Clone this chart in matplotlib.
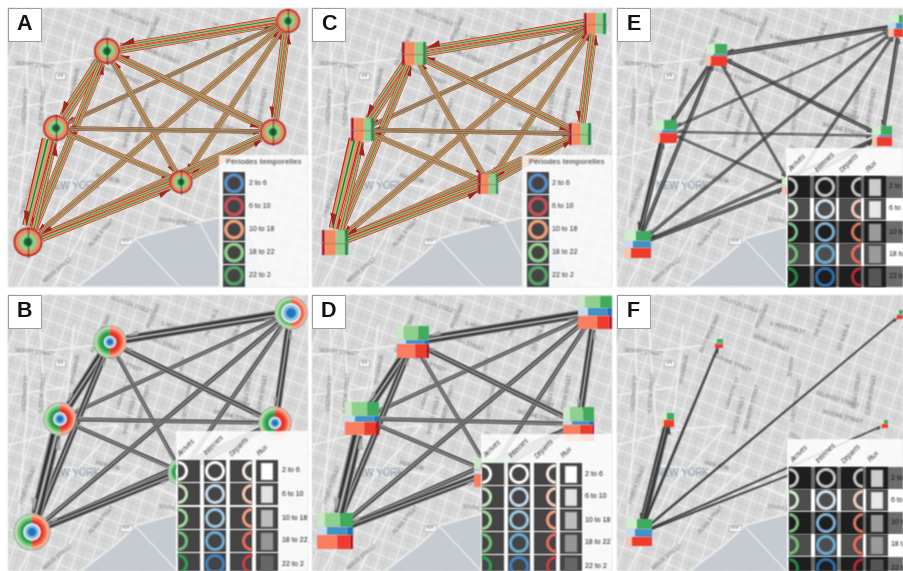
import numpy as np
import matplotlib
matplotlib.use("Agg")
import matplotlib.pyplot as plt
from matplotlib.collections import LineCollection
from matplotlib.patches import Circle, Polygon, Rectangle, Wedge

plt.rcParams['font.family'] = ['Liberation Sans', 'DejaVu Sans']

W, H = 904, 571

# panel frames in figure pixels: left, top, right, bottom
FRAME_A = (8, 8, 308, 287)
FRAME_B = (8, 295, 308, 571)
FRAME_C = (312, 8, 612, 287)
FRAME_D = (312, 295, 612, 571)
FRAME_E = (617, 8, 904, 287)
FRAME_F = (617, 295, 904, 571)

# node order: top right, top middle, left, right, centre, bottom left
NODES_A = [(288, 21), (107, 51), (56, 128), (273, 132), (181, 182), (28, 242)]
RADII_A = [12, 13, 13, 13, 11.5, 14.5]
NODES_B = [(291, 313), (110, 342), (60, 419), (275, 423), (181, 472), (32, 532)]
RADII_B = [16, 16, 16, 16, 13, 18]
INNER_B = [0.62, 0.38, 0.42, 0.38, 0.4, 0.48]

# left, top, right, bottom of the boxes
BOX_C = [(584, 13, 606, 34), (402, 42, 426, 65), (351, 118, 374, 141),
         (569, 123, 591, 145), (478, 174, 498, 194), (322, 230, 348, 255)]
BOX_D = [(578, 296, 612, 329), (397, 326, 429, 358), (345, 402, 379, 435),
         (563, 407, 594, 441), (474, 458, 506, 487), (317, 513, 353, 549)]
BOX_E = [(888, 15, 912, 37), (706, 44, 727, 66), (654, 120, 677, 143),
         (872, 126, 892, 146), (782, 177, 800, 195), (624, 231, 651, 258)]
BOX_F = [(895, 310, 903, 319), (713, 339, 723, 348), (661, 413, 674, 427),
         (880, 420, 888, 428), (626, 519, 652, 546)]

# row heights green / blue / red
HEIGHTS_D = [(0.36, 0.26, 0.38), (0.45, 0.12, 0.43), (0.42, 0.18, 0.40),
             (0.42, 0.12, 0.46), (0.42, 0.12, 0.46), (0.40, 0.21, 0.39)]
HEIGHTS_E = [(0.37, 0.26, 0.37), (0.45, 0.10, 0.45), (0.42, 0.16, 0.42),
             (0.45, 0.12, 0.43), (0.45, 0.12, 0.43), (0.37, 0.26, 0.37)]
HEIGHTS_F = [(0.45, 0.05, 0.50), (0.48, 0.04, 0.48), (0.48, 0.04, 0.48),
             (0.48, 0.04, 0.48), (0.36, 0.29, 0.35)]

# colour runs across a box row
GREEN_D = [(0.22, '#cbe8c4'), (0.43, '#8fd08d'), (0.35, '#41ab5d')]
BLUE_D = [(0.29, '#c6dbef'), (0.55, '#4292c6'), (0.16, '#2171b5')]
RED_D = [(0.55, '#fb7d60'), (0.37, '#ee3b2c'), (0.08, '#b5141c')]
GREEN_E = [(0.44, '#cfeeca'), (0.56, '#41ab5d')]
BLUE_E = [(0.35, '#c6dbef'), (0.65, '#4292c6')]
RED_E = [(0.25, '#fcc3ad'), (0.75, '#ee3b2c')]
ROW_C = [(0.13, '#a8162a'), (0.42, '#f58a5e'), (0.33, '#8fd08d'), (0.12, '#1f8a45')]

# node pairs and the width of the two directed links
EDGES = [(0, 1), (0, 2), (0, 3), (0, 4), (0, 5), (1, 2), (1, 3), (1, 4),
         (1, 5), (2, 3), (2, 4), (2, 5), (3, 4), (3, 5), (4, 5)]
WIDTH_A_AB = [6.5, 2.6, 5.0, 3.2, 3.4, 6.0, 4.2, 3.2, 4.5, 2.6, 3.2, 12.0, 4.2, 3.6, 5.0]
WIDTH_A_BA = [5.0, 2.4, 4.5, 3.2, 3.4, 5.5, 4.0, 3.2, 4.5, 2.6, 3.2, 6.0, 3.8, 3.6, 5.5]
WIDTH_B_AB = [5.5, 2.2, 4.0, 2.4, 2.6, 5.0, 3.0, 2.0, 3.6, 2.2, 2.2, 7.0, 3.0, 2.6, 4.0]
WIDTH_B_BA = [4.5, 2.0, 4.0, 2.4, 2.6, 4.5, 3.0, 2.0, 3.6, 2.2, 2.2, 6.0, 3.0, 2.6, 4.0]
WIDTH_E_AB = [2.8, 1.4, 2.4, 1.7, 1.8, 2.4, 2.2, 1.5, 2.2, 1.2, 1.4, 3.8, 1.8, 1.6, 2.0]
WIDTH_E_BA = [2.2, 1.2, 2.0, 1.6, 1.7, 2.0, 2.0, 1.5, 2.0, 1.1, 1.4, 2.0, 1.7, 1.6, 2.0]

# panel F only has the links of the bottom left node (index 4 there)
EDGES_F = [(4, 0), (4, 1), (4, 2), (4, 3), (4, 5)]
WIDTH_F = [2.4, 3.0, 4.8, 2.2, 2.4]
HIDDEN_F = (794, 472)

BANDS_A = [(1.0, '#a3231f'), (0.80, '#f4895f'), (0.36, '#8fd08d'), (0.14, '#1b7a3d')]
BANDS_THIN = [(1.0, '#96302a'), (0.72, '#b08a60'), (0.30, '#7d9a66')]
BANDS_GREY = [(1.0, '#a8a8a8'), (0.68, '#6a6a6a'), (0.30, '#1e1e1e')]
BANDS_DARK = [(1.0, '#3c3c3c')]

PERIODS = ['2 to 6', '6 to 10', '10 to 18', '18 to 22', '22 to 2']
PERIOD_COLORS = ['#5b8fc9', '#c9505f', '#f2a27c', '#93cf8f', '#55a468']
COLUMNS = ['Arrivés', 'Internes', 'Départs', 'Flux']
ARRIVES = ['#ffffff', '#c7e9c0', '#a1d99b', '#74c476', '#31a354']
INTERNES = ['#ffffff', '#c6dbef', '#9ecae1', '#6baed6', '#3f84c4']
DEPARTS = ['#fdeee6', '#fcc9b5', '#fc9a80', '#ef6a5a', '#cf3f48']
FLUX = ['#ffffff', '#e2e2e2', '#bdbdbd', '#969696', '#666666']
ARRIVES_DIM = ['#c8c8c8', '#d5efd0', '#7fbf85', '#74c476', '#238b45']
INTERNES_DIM = ['#c8c8c8', '#d6e6f4', '#7fb3d5', '#6baed6', '#2e70b0']
DEPARTS_DIM = ['#c8c8c8', '#f6cdbd', '#df7a62', '#ef6a5a', '#b92b33']
FLUX_DIM = ['#cccccc', '#e8e8e8', '#9a9a9a', '#9a9a9a', '#555555']

# map, everything relative to the panel corner
AVENUE_FOOT = [-70, -52, -38, -20, -4, 14, 30, 46, 60, 78, 94, 110, 126, 142,
               158, 172, 190, 206, 222, 238, 254, 272, 288]
CROSS_START = [-90, -72, -56, -40, -24, -8, 8, 24, 40, 56, 72, 88, 104, 120,
               136, 152, 168, 184, 200, 216, 232, 248]
WEST_ROADS = [[(0, 150), (60, 135), (110, 130)], [(30, 0), (36, 90), (40, 140)],
              [(18, 0), (20, 110), (10, 220)], [(66, 30), (58, 110), (30, 210)],
              [(0, 60), (90, 50)], [(0, 100), (60, 92)], [(40, 170), (120, 180), (200, 215)],
              [(45, 279), (80, 215), (132, 170)], [(10, 279), (55, 190), (110, 130)]]
WATER_EAST = [(69, 279), (107, 250), (129, 230), (165, 220), (209, 210), (236, 205),
              (262, 279)]
WATER_WEST = [(0, 0), (7, 0), (6, 30), (0, 48)]
PIERS = [(129, 233), (172, 279), (192, 215), (215, 258)]

STREET_NAMES = ['HOUSTON STREET', 'E HOUSTON ST', 'BROADWAY', 'BOWERY', 'BROOME STREET',
                'SPRING STREET', 'DELANCEY STREET', 'BROOME STREET', 'LAFAYETTE ST',
                'BAXTER STREET', 'MULBERRY STREET', 'CHRYSTIE STREET', 'ESSEX STREET',
                'CLINTON STREET', 'HUDSON STREET', 'GREENWICH ST', 'VESTRY STREET',
                '6TH AVENUE', 'WEST BROADWAY', '2ND AVENUE', '1ST AVENUE', 'SOUTH STREET',
                'PEARL STREET', 'WATER STREET', 'CHURCH STREET', 'CANAL', 'PARK ROW']
STREET_X = [123, 171, 146, 175, 115, 153, 220, 225, 116, 123, 135, 180, 241, 255, 35, 18,
            26, 68, 93, 205, 228, 168, 94, 50, 20, 178, 100]
STREET_Y = [10, 33, 20, 70, 68, 48, 105, 122, 98, 120, 112, 105, 95, 100, 98, 98, 57,
            73, 38, 28, 42, 214, 225, 262, 190, 143, 171]
STREET_ROT = [-20, -15, 65, 80, -22, -22, -18, -15, 70, 75, 75, 80, 80, 80, 85, 85, -5,
              80, 65, 70, 70, -8, 50, 40, 70, -30, -15]


def blur(image, dpi):
    # the reference is a soft, upscaled screenshot; blur with premultiplied alpha to avoid halos
    pad = 2
    alpha = np.pad(image[:, :, 3], pad, mode='constant')[:, :, None]
    rgb = np.pad(image[:, :, :3] * image[:, :, 3:], ((pad, pad), (pad, pad), (0, 0)), mode='constant')
    for axis in (0, 1):
        rgb = 0.25 * np.roll(rgb, 1, axis) + 0.5 * rgb + 0.25 * np.roll(rgb, -1, axis)
        alpha = 0.25 * np.roll(alpha, 1, axis) + 0.5 * alpha + 0.25 * np.roll(alpha, -1, axis)
    rgb = rgb / np.maximum(alpha, 1e-4)
    return np.clip(np.dstack([rgb, alpha]), 0, 1), -pad, -pad


def soften(ax):
    # striped links stay sharp, blurring each band separately turns them brown
    for artist in ax.get_children():
        if artist.get_visible() and artist is not ax.patch and artist.get_gid() != 'sharp':
            artist.set_agg_filter(blur)


def panel(frame):
    x0, y0, x1, y1 = frame
    ax = fig.add_axes([x0 / W, 1 - y1 / H, (x1 - x0) / W, (y1 - y0) / H])
    ax.set_xlim(x0, x1)
    ax.set_ylim(y1, y0)
    ax.axis('off')
    draw_map(ax, x0, y0)
    return ax


def draw_map(ax, ox, oy):
    ax.add_patch(Rectangle((ox, oy), 300, 280, fc='#d8d8d8', ec='none', zorder=0))
    big = []
    small = []
    for i, foot in enumerate(AVENUE_FOOT):
        line = [(ox + foot, oy + 285), (ox + foot + 88, oy - 5)]
        big.append(line)
        small.append([(line[0][0] + 7, line[0][1]), (line[1][0] + 7, line[1][1])])
    for start in CROSS_START:
        line = [(ox - 5, oy + start), (ox + 305, oy + start + 118)]
        big.append(line)
        small.append([(line[0][0], line[0][1] + 7), (line[1][0], line[1][1] + 7)])
    ax.add_collection(LineCollection(small, colors='#c6c6c6', linewidths=0.5, zorder=1))
    ax.add_collection(LineCollection(big, colors='#f0f0f0', linewidths=0.8, zorder=1))
    roads = [[(ox + x, oy + y) for x, y in road] for road in WEST_ROADS]
    ax.add_collection(LineCollection(roads, colors='#f4f4f4', linewidths=1.1, zorder=1))
    ax.add_patch(Polygon([(ox + x, oy + y) for x, y in WATER_EAST], fc='#c5cbd0', ec='#eeeeee', lw=1.4, zorder=2))
    ax.add_patch(Polygon([(ox + x, oy + y) for x, y in WATER_WEST], fc='#c5cbd0', ec='none', zorder=2))
    for i in range(0, len(PIERS), 2):
        ax.plot([ox + PIERS[i][0], ox + PIERS[i + 1][0]], [oy + PIERS[i][1], oy + PIERS[i + 1][1]],
                color='#e6e8ea', lw=1.2, zorder=2)
    for name, x, y, rot in zip(STREET_NAMES, STREET_X, STREET_Y, STREET_ROT):
        ax.text(ox + x, oy + y, name, fontsize=3.4, color='#6f6f6f', rotation=rot,
                ha='center', va='center', zorder=3, clip_on=True)
    ax.text(ox + 65, oy + 178, 'NEW YORK', fontsize=7, color='#8392a2', ha='center', va='center', zorder=3, clip_on=True)
    for x, y, name in [(52, 68, '178'), (118, 233, 'FDR')]:
        ax.text(ox + x, oy + y, name, fontsize=3.2, color='#555555', ha='center', va='center', zorder=3,
                bbox=dict(fc='white', ec='#999999', lw=0.4, pad=0.8), clip_on=True)


def arrow(ax, p, q, width, rp, rq, bands, z=5, barb=True):
    p = np.array(p, dtype=float)
    q = np.array(q, dtype=float)
    u = (q - p) / np.linalg.norm(q - p)
    n = np.array([-u[1], u[0]])
    shift = n * width * 0.45
    a = p + u * rp + shift
    b = q - u * rq + shift
    end = width * 0.7
    gid = 'sharp' if bands is BANDS_A or bands is BANDS_THIN else None
    for frac, color in bands:
        h0 = width * frac / 2
        h1 = end * frac / 2
        ax.add_patch(Polygon([a + n * h0, b + n * h1, b - n * h1, a - n * h0], fc=color, ec='none', zorder=z, gid=gid))
    if barb:
        size = min(max(width, 2.4), 6.5)
        ax.add_patch(Polygon([b, b - u * size * 2.2 + n * size * 0.95, b - u * size * 2.2],
                             fc=bands[0][1], ec='none', zorder=z, gid=gid))


def draw_edges(ax, nodes, rp, edges, w_ab, w_ba, bands, z=5):
    for (i, j), w1, w2 in zip(edges, w_ab, w_ba):
        use1 = BANDS_THIN if bands is BANDS_A and w1 < 3 else bands
        use2 = BANDS_THIN if bands is BANDS_A and w2 < 3 else bands
        arrow(ax, nodes[i], nodes[j], w1, rp[i], rp[j] + 1, use1, z)
        arrow(ax, nodes[j], nodes[i], w2, rp[j], rp[i] + 1, use2, z)


def centers(boxes):
    return [((b[0] + b[2]) / 2, (b[1] + b[3]) / 2) for b in boxes]


def half_sizes(boxes):
    return [(b[2] - b[0]) * 0.48 for b in boxes]


def ring_node(ax, xy, r):
    ax.add_patch(Circle(xy, r, fc='#a3231f', ec='none', zorder=8))
    ax.add_patch(Circle(xy, r * 0.88, fc='#f4895f', ec='none', zorder=8))
    ax.add_patch(Circle(xy, r * 0.62, fc='#8fd08d', ec='none', zorder=8))
    ax.add_patch(Circle(xy, r * 0.30, fc='#0f6b35', ec='none', zorder=8))
    ax.plot([xy[0], xy[0]], [xy[1] - r, xy[1] + r], color='#5a1a1a', lw=0.6, zorder=9)


def split_node(ax, xy, r, inner):
    steps = [(1.0, '#b7e2b0', '#fcae91'), (0.82, '#74c476', '#f26a4f'), (0.66, '#2f9c55', '#e5342a')]
    for frac, left, right in steps:
        ax.add_patch(Wedge(xy, r * frac, 90, 270, fc=left, ec='none', zorder=8))
        ax.add_patch(Wedge(xy, r * frac, -90, 90, fc=right, ec='none', zorder=8))
    ax.add_patch(Circle(xy, r, fc='none', ec='#777777', lw=0.4, zorder=8))
    ax.add_patch(Circle(xy, r * inner, fc='white', ec='none', zorder=9))
    ax.add_patch(Circle(xy, r * inner * 0.84, fc='#8fc1e3', ec='none', zorder=9))
    ax.add_patch(Circle(xy, r * inner * 0.50, fc='#2176c0', ec='none', zorder=9))


def row_runs(ax, x0, y0, x1, y1, runs, edge=None):
    left = x0
    for frac, color in runs:
        right = left + (x1 - x0) * frac
        ax.add_patch(Rectangle((left, y0), right - left, y1 - y0, fc=color, ec='none', zorder=8))
        left = right


def box_two_rows(ax, box):
    x0, y0, x1, y1 = box
    mid = (y0 + y1) / 2
    row_runs(ax, x0, y0, x1, mid, ROW_C)
    row_runs(ax, x0, mid, x1, y1, ROW_C)
    ax.plot([x0, x1], [mid, mid], color='#7a4a30', lw=0.4, zorder=9)


def box_three_rows(ax, box, heights, runs):
    x0, y0, x1, y1 = box
    top = y0
    for frac, run in zip(heights, runs):
        bottom = top + (y1 - y0) * frac
        row_runs(ax, x0, top, x1, bottom, run)
        top = bottom


def dark_square(ax, x, y, color='#444444', size=22):
    ax.add_patch(Rectangle((x, y), size, size, fc=color, ec='none', zorder=11))


def ring(ax, x, y, color, part='full', r=10, t=3.0):
    if part == 'full':
        ax.add_patch(Wedge((x, y), r, 0, 360, width=t, fc=color, ec='none', zorder=12))
    elif part == 'right':
        ax.add_patch(Wedge((x, y), r, -90, 90, width=t, fc=color, ec='none', zorder=12))
    else:
        ax.add_patch(Wedge((x, y), r, 90, 270, width=t, fc=color, ec='none', zorder=12))


def legend_periods(ax, x0, y0, x1, y1, sq_x, text_x):
    ax.add_patch(Rectangle((x0, y0), x1 - x0, y1 - y0, fc='white', ec='none', alpha=0.8, zorder=10))
    ax.text((x0 + x1) / 2, y0 + 7, 'Périodes temporelles', fontsize=5.4, fontweight='bold', color='#666666',
            ha='center', va='center', zorder=12)
    for i, (name, color) in enumerate(zip(PERIODS, PERIOD_COLORS)):
        y = 172.3 + i * 23.1
        dark_square(ax, sq_x, y)
        ring(ax, sq_x + 11, y + 11, color, t=3.4)
        ax.text(text_x, y + 11, name, fontsize=5, color='#222222', va='center', zorder=12)


def legend_matrix(ax, rect, rows_y, cols_x, text_x, head_xy, shaded=False):
    x0, y0, x1, y1 = rect
    ax.add_patch(Rectangle((x0, y0), x1 - x0, y1 - y0, fc='white', ec='none', alpha=0.85, zorder=10))
    for name, (hx, hy) in zip(COLUMNS, head_xy):
        ax.text(hx, hy, name, fontsize=5, style='italic', rotation=45, color='#333333', ha='center', va='center', zorder=12)
    arr = ARRIVES_DIM if shaded else ARRIVES
    inn = INTERNES_DIM if shaded else INTERNES
    dep = DEPARTS_DIM if shaded else DEPARTS
    flx = FLUX_DIM if shaded else FLUX
    for i, y in enumerate(rows_y):
        square = '#444444'
        if shaded:
            dim = i in (0, 2, 4)
            square = '#1e1e1e' if dim else '#4d4d4d'
            strip = '#6c6c6c' if dim else '#ffffff'
            ax.add_patch(Rectangle((cols_x[0], y - 0.5), x1 - cols_x[0], 23, fc=strip, ec='none', zorder=10.5))
        for x in cols_x:
            dark_square(ax, x, y, square)
        cy = y + 11
        ring(ax, cols_x[0], cy, arr[i], 'right')
        ring(ax, cols_x[1] + 11, cy, inn[i], 'full')
        ring(ax, cols_x[2] + 22, cy, dep[i], 'left')
        ax.add_patch(Rectangle((cols_x[3] + 5, y + 2.5), 12, 17, fc=flx[i], ec='#888888', lw=0.3, zorder=12))
        ax.text(text_x, cy, PERIODS[i], fontsize=5, color='#111111', va='center', zorder=12, clip_on=True)


def letter(ax, frame, name):
    soften(ax)
    x0, y0 = frame[0], frame[1]
    ax.add_patch(Rectangle((x0, y0), 33, 33, fc='white', ec='#999999', lw=0.7, zorder=15))
    ax.text(x0 + 16.5, y0 + 16.5, name, fontsize=15.5, fontweight='bold', color='#111111', ha='center', va='center', zorder=16)


fig = plt.figure(figsize=(W / 100, H / 100), dpi=100)

ax = panel(FRAME_A)
draw_edges(ax, NODES_A, RADII_A, EDGES, WIDTH_A_AB, WIDTH_A_BA, BANDS_A)
for xy, r in zip(NODES_A, RADII_A):
    ring_node(ax, xy, r)
legend_periods(ax, 219, 155, 308, 287, 223, 249)
letter(ax, FRAME_A, 'A')

ax = panel(FRAME_B)
draw_edges(ax, NODES_B, RADII_B, EDGES, WIDTH_B_AB, WIDTH_B_BA, BANDS_GREY)
for xy, r, inner in zip(NODES_B, RADII_B, INNER_B):
    split_node(ax, xy, r, inner)
legend_matrix(ax, (176, 431, 308, 571), [460, 483, 507, 530, 553], [178, 204, 230, 256], 282,
              [(187, 448), (215, 445), (240, 447), (263, 450)])
letter(ax, FRAME_B, 'B')

ax = panel(FRAME_C)
draw_edges(ax, centers(BOX_C), half_sizes(BOX_C), EDGES, WIDTH_A_AB, WIDTH_A_BA, BANDS_A)
for box in BOX_C:
    box_two_rows(ax, box)
legend_periods(ax, 522, 155, 612, 287, 527, 552)
letter(ax, FRAME_C, 'C')

ax = panel(FRAME_D)
draw_edges(ax, centers(BOX_D), half_sizes(BOX_D), EDGES, WIDTH_B_AB, WIDTH_B_BA, BANDS_GREY)
for box, heights in zip(BOX_D, HEIGHTS_D):
    box_three_rows(ax, box, heights, [GREEN_D, BLUE_D, RED_D])
legend_matrix(ax, (481, 434, 612, 571), [463, 486, 509, 532, 555], [482, 508, 534, 560], 585,
              [(493, 449), (520, 448), (545, 449), (567, 452)])
letter(ax, FRAME_D, 'D')

ax = panel(FRAME_E)
draw_edges(ax, centers(BOX_E), half_sizes(BOX_E), EDGES, WIDTH_E_AB, WIDTH_E_BA, BANDS_DARK)
for box, heights in zip(BOX_E, HEIGHTS_E):
    box_three_rows(ax, box, heights, [GREEN_E, BLUE_E, RED_E])
legend_matrix(ax, (786, 148, 904, 287), [176, 198, 221, 243, 266], [788, 814, 839, 864], 889,
              [(798, 163), (826, 162), (850, 163), (872, 166)], shaded=True)
letter(ax, FRAME_E, 'E')

ax = panel(FRAME_F)
nodes_f = centers(BOX_F)
hub = nodes_f[4]
for (i, j), w in zip(EDGES_F, WIDTH_F):
    target = HIDDEN_F if j == 5 else nodes_f[j]
    arrow(ax, hub, target, w, 13, 3, BANDS_DARK)
    if j == 2:
        arrow(ax, target, hub, w * 0.6, 6, 13, BANDS_DARK)
for box, heights in zip(BOX_F, HEIGHTS_F):
    box_three_rows(ax, box, heights, [GREEN_E, BLUE_E, RED_E])
legend_matrix(ax, (787, 439, 904, 571), [467, 489, 512, 534, 557], [789, 815, 841, 866], 891,
              [(800, 454), (827, 453), (852, 454), (874, 456)], shaded=True)
letter(ax, FRAME_F, 'F')

fig.savefig('out.png', dpi=100, facecolor='white')
